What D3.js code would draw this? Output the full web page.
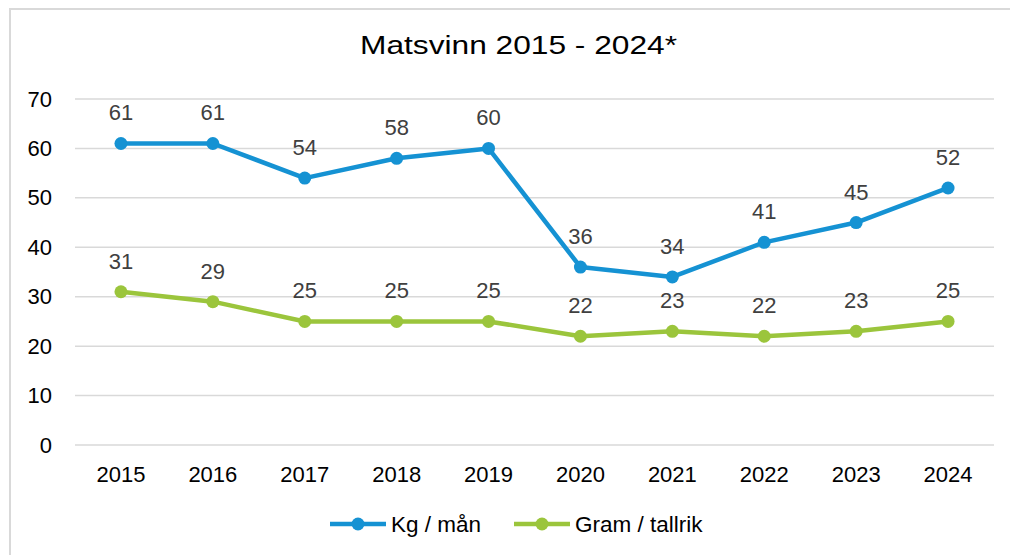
<!DOCTYPE html>
<html>
<head>
<meta charset="utf-8">
<script src="https://cdn.jsdelivr.net/npm/d3@7"></script>
<style>
  body { margin: 0; background: #fff; }
  text { font-family: "Liberation Sans", Arial, sans-serif; }
</style>
</head>
<body>
<script>
const years = ['2015', '2016', '2017', '2018', '2019', '2020', '2021', '2022', '2023', '2024'];
const kgPerMonth = [61, 61, 54, 58, 60, 36, 34, 41, 45, 52];
const gramPerPlate = [31, 29, 25, 25, 25, 22, 23, 22, 23, 25];
const yTicks = [0, 10, 20, 30, 40, 50, 60, 70];
const seriesNames = ['Kg / mån', 'Gram / tallrik'];

const svgWidth = 1010;
const svgHeight = 555;
const margins = { top: 99, right: 16, bottom: 110, left: 75 };
const chartWidth = svgWidth - margins.left - margins.right;
const chartHeight = svgHeight - margins.top - margins.bottom;

const blue = '#1592d3';
const green = '#9bc53c';

const svg = d3.select('body').append('svg')
  .attr('width', svgWidth)
  .attr('height', svgHeight);

// outer frame
svg.append('rect')
  .attr('x', 10).attr('y', 9)
  .attr('width', 1010).attr('height', 600)
  .attr('fill', 'none')
  .attr('stroke', '#d9d9d9')
  .attr('stroke-width', 2);

svg.append('text')
  .attr('x', 360).attr('y', 54)
  .attr('textLength', 317)
  .attr('lengthAdjust', 'spacingAndGlyphs')
  .style('font-size', '26px')
  .attr('fill', '#000')
  .text('Matsvinn 2015 - 2024*');

const chart = svg.append('g')
  .attr('transform', `translate(${margins.left}, ${margins.top})`);

const x = d3.scaleBand().domain(years).range([0, chartWidth]);
const y = d3.scaleLinear().domain([0, 70]).range([chartHeight, 0]);
const cx = d => x(d) + x.bandwidth() / 2;

// gridlines
chart.append('g')
  .selectAll('line')
  .data(yTicks)
  .enter().append('line')
  .attr('x1', 0).attr('x2', chartWidth)
  .attr('y1', d => y(d)).attr('y2', d => y(d))
  .attr('stroke', '#d9d9d9')
  .attr('stroke-width', 1.5);

const leftAxis = d3.axisLeft(y).tickValues(yTicks).tickSize(0).tickPadding(23);
const yAxis = chart.append('g').call(leftAxis);
yAxis.select('.domain').remove();
yAxis.selectAll('text')
  .style('font-size', '22px')
  .attr('fill', '#000');

const bottomAxis = d3.axisBottom(x).tickSize(0).tickPadding(21);
const xAxis = chart.append('g')
  .attr('transform', `translate(0, ${chartHeight})`)
  .call(bottomAxis);
xAxis.select('.domain').remove();
xAxis.selectAll('text')
  .style('font-size', '22px')
  .attr('fill', '#000');

const series = [
  { name: seriesNames[0], values: kgPerMonth, color: blue },
  { name: seriesNames[1], values: gramPerPlate, color: green }
];

const line = d3.line()
  .x((d, i) => cx(years[i]))
  .y(d => y(d));

series.forEach(s => {
  chart.append('path')
    .datum(s.values)
    .attr('d', line)
    .attr('fill', 'none')
    .attr('stroke', s.color)
    .attr('stroke-width', 4.5)
    .attr('stroke-linejoin', 'round');

  chart.selectAll(null)
    .data(s.values)
    .enter().append('circle')
    .attr('cx', (d, i) => cx(years[i]))
    .attr('cy', d => y(d))
    .attr('r', 6.5)
    .attr('fill', s.color);

  chart.selectAll(null)
    .data(s.values)
    .enter().append('text')
    .attr('x', (d, i) => cx(years[i]))
    .attr('y', d => y(d) - 23)
    .attr('text-anchor', 'middle')
    .style('font-size', '22px')
    .attr('fill', '#404040')
    .text(d => d);
});

// legend
const legendX = [330, 514];
const legend = svg.append('g');
series.forEach((s, i) => {
  const g = legend.append('g').attr('transform', `translate(${legendX[i]}, 524)`);
  g.append('line')
    .attr('x1', 0).attr('x2', 56)
    .attr('stroke', s.color)
    .attr('stroke-width', 4.5);
  g.append('circle')
    .attr('cx', 28).attr('r', 6.5)
    .attr('fill', s.color);
  g.append('text')
    .attr('x', 61).attr('y', 8)
    .style('font-size', '22.5px')
    .attr('fill', '#000')
    .text(s.name);
});
</script>
</body>
</html>
